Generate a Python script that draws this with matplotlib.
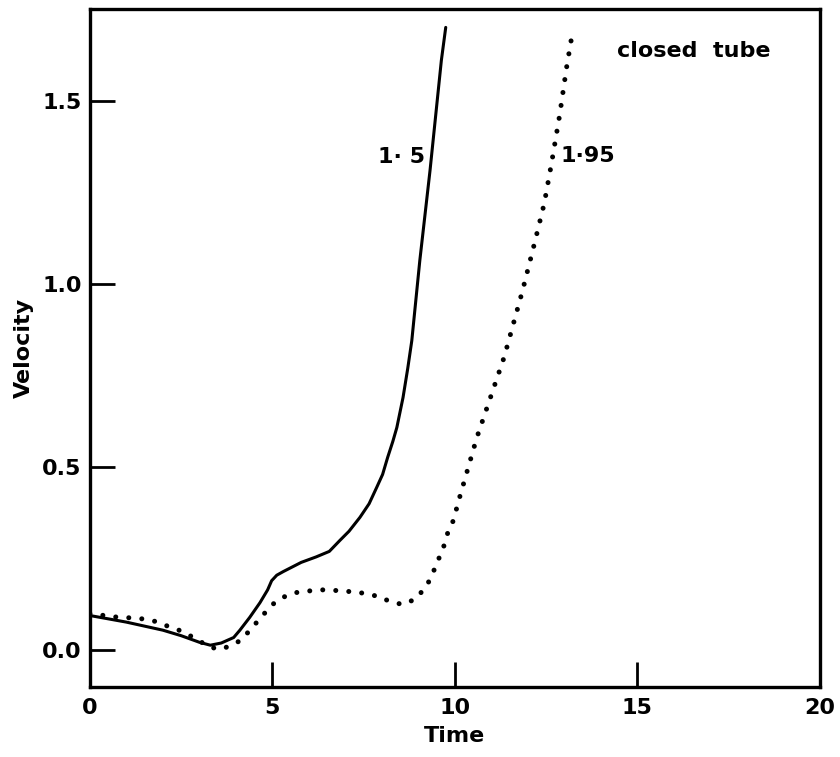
import matplotlib
matplotlib.use("Agg")
import matplotlib.pyplot as plt

# Curve labelled 1.5 (solid)
t_solid = [0, 0.5, 1.0, 1.5, 2.0, 2.5, 3.0, 3.3, 3.6, 3.94, 4.11, 4.38, 4.66, 4.87,
           4.98, 5.12, 5.3, 5.79, 6.2, 6.56, 6.85, 7.1, 7.4, 7.65, 7.86, 8.02, 8.16,
           8.3, 8.41, 8.58, 8.71, 8.82, 9.04, 9.32, 9.63, 9.75]
v_solid = [0.095, 0.086, 0.077, 0.066, 0.055, 0.04, 0.022, 0.014, 0.02, 0.035, 0.055,
           0.09, 0.13, 0.165, 0.19, 0.205, 0.215, 0.24, 0.255, 0.27, 0.30, 0.325,
           0.363, 0.40, 0.445, 0.48, 0.527, 0.57, 0.608, 0.69, 0.77, 0.845, 1.064,
           1.31, 1.61, 1.70]

# Curve labelled 1.95 (dotted)
t_dot = [0, 0.22, 0.55, 0.9, 1.2, 1.54, 1.87, 2.2, 2.53, 2.78, 3.06, 3.31, 3.6, 3.88,
         4.13, 4.46, 4.68, 4.87, 5.04, 5.3, 5.6, 5.92, 6.26, 6.59, 6.94, 7.3, 7.6,
         7.93, 8.2, 8.57, 8.9, 9.15, 9.34, 9.5, 9.67, 9.8, 9.97, 10.08, 10.6, 11.35,
         11.85, 12.18, 12.45, 12.65, 12.87, 13.06, 13.22]
v_dot = [0.10, 0.098, 0.092, 0.09, 0.088, 0.085, 0.077, 0.063, 0.052, 0.038, 0.022,
         0.008, 0.003, 0.014, 0.027, 0.063, 0.09, 0.11, 0.128, 0.145, 0.157, 0.161,
         0.165, 0.165, 0.161, 0.16, 0.153, 0.147, 0.134, 0.125, 0.139, 0.166, 0.196,
         0.237, 0.275, 0.319, 0.357, 0.40, 0.58, 0.80, 0.98, 1.11, 1.22, 1.33, 1.46,
         1.59, 1.685]

x_ticks = [0, 5, 10, 15, 20]
y_ticks = [0.0, 0.5, 1.0, 1.5]
y_tick_labels = ["0.0", "0.5", "1.0", "1.5"]

fig = plt.figure(figsize=(8.4, 7.57), dpi=100)
ax = fig.add_axes([0.107, 0.0925, 0.869, 0.8955])

ax.plot(t_solid, v_solid, color="black", lw=2.2, solid_capstyle="round",
        solid_joinstyle="round")
ax.plot(t_dot, v_dot, color="black", lw=3.6, linestyle=(0, (0.01, 2.6)),
        dash_capstyle="round")

fw = "bold"
ax.text(8.55, 1.347, "1· 5", fontsize=16, fontweight=fw, ha="center", va="center")
ax.text(13.65, 1.35, "1·95", fontsize=16, fontweight=fw, ha="center", va="center")
ax.text(16.55, 1.636, "closed  tube", fontsize=16, fontweight=fw,
        ha="center", va="center")

ax.set_xlim(0, 20)
ax.set_ylim(-0.1, 1.75)
ax.set_xticks(x_ticks)
ax.set_xticklabels([str(x) for x in x_ticks])
ax.set_yticks(y_ticks)
ax.set_yticklabels(y_tick_labels)
ax.tick_params(direction="in", length=18, width=2, labelsize=16)
ax.tick_params(axis="x", pad=8)
ax.tick_params(axis="y", pad=6)
for lab in ax.get_xticklabels() + ax.get_yticklabels():
    lab.set_fontweight(fw)
for s in ax.spines.values():
    s.set_linewidth(2.4)

ax.set_xlabel("Time", fontsize=16, fontweight=fw, labelpad=6)
ax.set_ylabel("Velocity", fontsize=16, fontweight=fw, labelpad=6)

fig.savefig("out.png", dpi=100)
